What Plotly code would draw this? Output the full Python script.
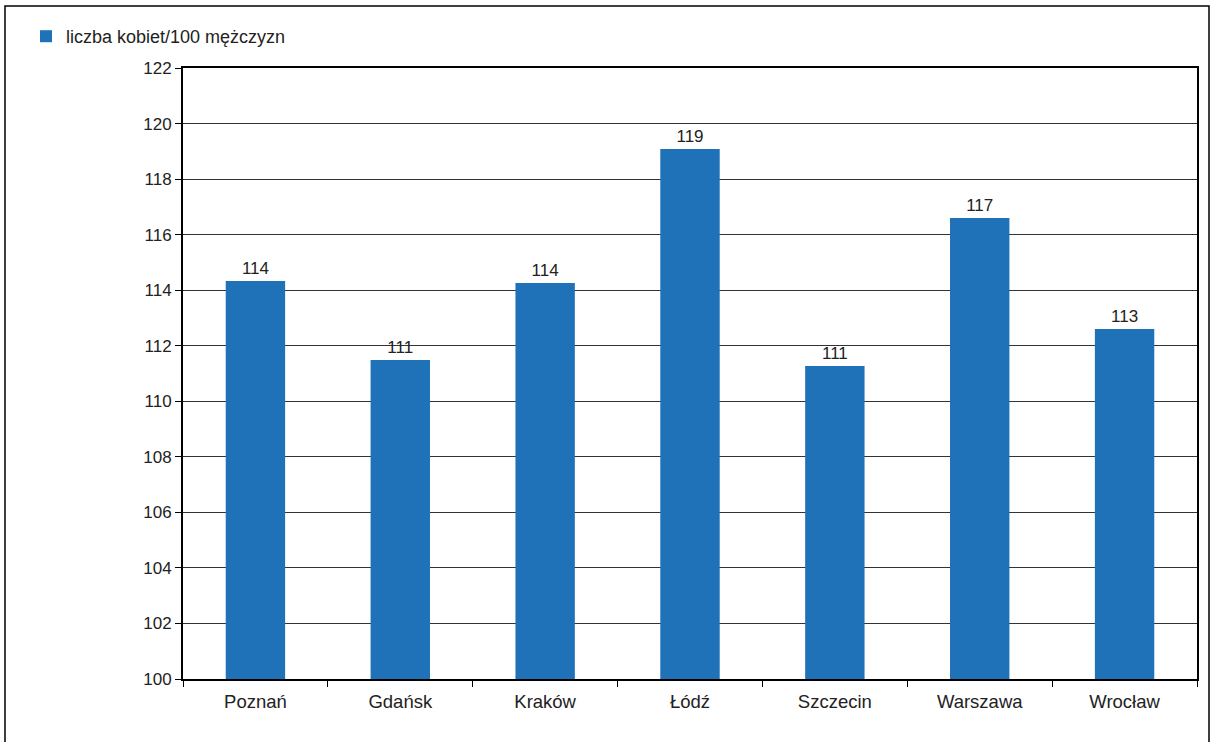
import plotly.graph_objects as go

cities = ["Poznań", "Gdańsk", "Kraków", "Łódź", "Szczecin", "Warszawa", "Wrocław"]
values = [114.33, 111.49, 114.26, 119.08, 111.27, 116.6, 112.6]
series_name = "liczba kobiet/100 mężczyzn"
y_ticks = list(range(100, 123, 2))

W, H = 1213, 742
L, R, T, B = 183, 16, 68, 63
pw, ph = W - L - R, H - T - B

fig = go.Figure()
fig.add_trace(go.Bar(
    x=cities, y=values, name=series_name,
    marker=dict(color="#1f71b8", line=dict(width=0)),
    texttemplate="%{y:.0f}", textposition="outside",
    textfont=dict(size=17, color="#222222"),
    cliponaxis=False,
    showlegend=True,
))

def px_x(p):
    return (p - L) / pw

def px_y(p):
    return 1 - (p - T) / ph

fig.update_layout(
    width=W, height=H,
    margin=dict(l=L, r=R, t=T, b=B),
    paper_bgcolor="white", plot_bgcolor="white",
    font=dict(family="Liberation Sans, Arial, sans-serif", size=17, color="#222222"),
    bargap=0.59,
    showlegend=True,
    legend=dict(x=px_x(26), y=px_y(18), xanchor="left", yanchor="top",
                font=dict(size=18), itemwidth=30, bgcolor="rgba(0,0,0,0)"),
    xaxis=dict(
        showline=True, linecolor="black", linewidth=2, mirror=True,
        ticks="outside", tickson="boundaries", ticklen=6, tickcolor="black",
        showgrid=False, tickfont=dict(size=18.5), ticklabelstandoff=5,
    ),
    yaxis=dict(
        range=[100, 122], tickvals=y_ticks,
        showline=True, linecolor="black", linewidth=2, mirror=True,
        ticks="outside", ticklen=6, tickcolor="black",
        showgrid=True, gridcolor="#333333", gridwidth=1,
        tickfont=dict(size=17), zeroline=False,
    ),
    shapes=[dict(type="rect", xref="paper", yref="paper",
                 x0=px_x(5), x1=px_x(1209), y0=px_y(760), y1=px_y(6),
                 line=dict(color="black", width=1.5), fillcolor="rgba(0,0,0,0)",
                 layer="below")],
)

fig.write_html("out.html", config={"displayModeBar": False},
               post_script="document.body.style.margin='0';")
